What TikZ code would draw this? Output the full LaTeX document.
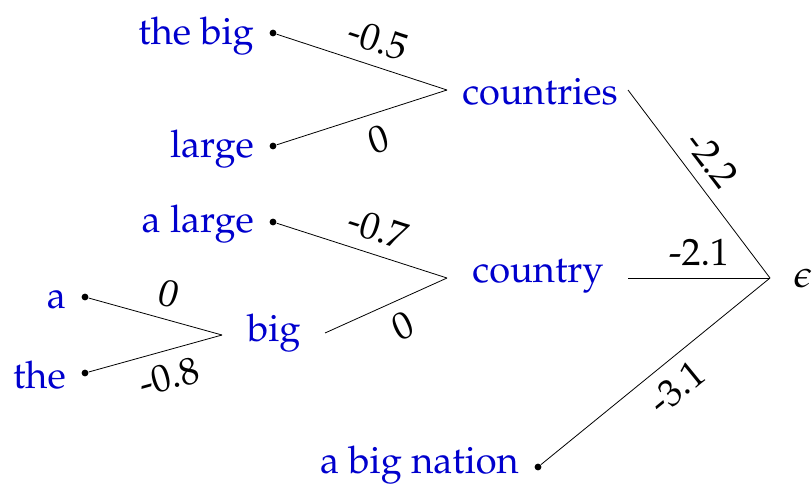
\documentclass[tikz,border=0pt]{standalone}
\usepackage[T1]{fontenc}
\usepackage{mathpazo}
\usepackage{tikz}
\usetikzlibrary{positioning}
\definecolor{wordblue}{RGB}{0, 0, 205}

\begin{document}
\begin{tikzpicture}[x=0.5pt, y=-0.5pt,
    word/.style={text=wordblue, font=\fontsize{19}{22}\selectfont, inner sep=0pt},
    leaf/.style={circle, fill, inner sep=0pt, minimum size=3.4pt},
    wt/.style={font=\fontsize{19}{22}\selectfont, sloped, inner sep=6pt}]
    \useasboundingbox (0,0) rectangle (812,484);
    % leaves with their dots
    \node[leaf] (thebig-d) at (273,33) {};
    \node[leaf] (large-d) at (273,146) {};
    \node[leaf] (alarge-d) at (273,222) {};
    \node[leaf] (a-d) at (85,297) {};
    \node[leaf] (the-d) at (85,373) {};
    \node[leaf] (nation-d) at (538,467) {};
    \node[word, left=7.5pt of thebig-d, yshift=-1.5pt] (thebig) {the big};
    \node[word, left=7.5pt of large-d, yshift=-1.5pt] (large) {large};
    \node[word, left=7.5pt of alarge-d, yshift=-1pt] (alarge) {a large};
    \node[word, left=7.5pt of a-d, yshift=-1pt] (a) {a};
    \node[word, left=7.5pt of the-d, yshift=-1pt] (the) {the};
    \node[word, left=7.5pt of nation-d, yshift=1pt] (nation) {a big nation};
    % inner words
    \node[word] (countries) at (540,92) {countries};
    \node[word] (country) at (538,276) {country};
    \node[word] (big) at (274,333) {big};
    \node[font=\fontsize{19}{22}\selectfont] (eps) at (803,278) {$\epsilon$};
    % where the lines meet
    \coordinate (countries-in) at (447,90);
    \coordinate (countries-out) at (628,90);
    \coordinate (country-in) at (447,278);
    \coordinate (country-out) at (628,278);
    \coordinate (big-in) at (222,335);
    \coordinate (big-out) at (325,333);
    \coordinate (eps-in) at (770,278);
    \foreach \from/\to/\w/\side/\p in {
        thebig-d/countries-in/-0.5/above/0.55, large-d/countries-in/0/below/0.55,
        alarge-d/country-in/-0.7/above/0.55, big-out/country-in/0/below/0.55,
        a-d/big-in/0/above/0.55, the-d/big-in/-0.8/below/0.55,
        countries-out/eps-in/-2.2/above/0.45, country-out/eps-in/-2.1/above/0.5,
        nation-d/eps-in/-3.1/below/0.52}
      \draw[thin] (\from) -- node[wt, \side, pos=\p] {\w} (\to);
\end{tikzpicture}
\end{document}
